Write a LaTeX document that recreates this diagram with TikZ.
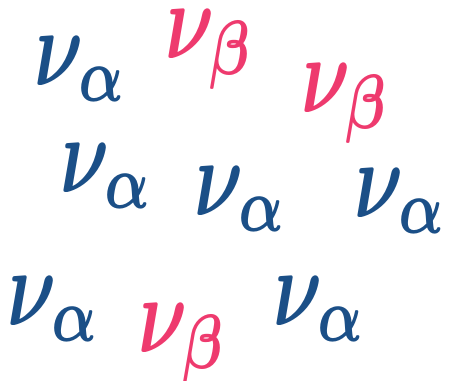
\documentclass[tikz,border=0pt]{standalone}
\usepackage{bm}
\definecolor{nublue}{HTML}{1B4F87}
\definecolor{nupink}{HTML}{EE3A6E}
\begin{document}
\begin{tikzpicture}[
        x=1pt, y=-1pt,
        nua/.style={anchor=base west, inner sep=0pt, xscale=7.6, yscale=11, text=nublue},
        nub/.style={anchor=base west, inner sep=0pt, xscale=7.6, yscale=11, text=nupink},
        ]
        % Canvas
        \useasboundingbox (0,0) rectangle (452,380);

        % Neutrinos of flavour alpha
        \node[nua] (a1) at (33,85)  {$\bm{\nu_\alpha}$};
        \node[nua] (a2) at (59,192) {$\bm{\nu_\alpha}$};
        \node[nua] (a3) at (193,215) {$\bm{\nu_\alpha}$};
        \node[nua] (a4) at (353,217) {$\bm{\nu_\alpha}$};
        \node[nua] (a5) at (6,325)  {$\bm{\nu_\alpha}$};
        \node[nua] (a6) at (272,325) {$\bm{\nu_\alpha}$};

        % Neutrinos of flavour beta
        \node[nub] (b1) at (164,58)  {$\bm{\nu_\beta}$};
        \node[nub] (b2) at (300,112) {$\bm{\nu_\beta}$};
        \node[nub] (b3) at (137,352) {$\bm{\nu_\beta}$};

    \end{tikzpicture}
\end{document}
